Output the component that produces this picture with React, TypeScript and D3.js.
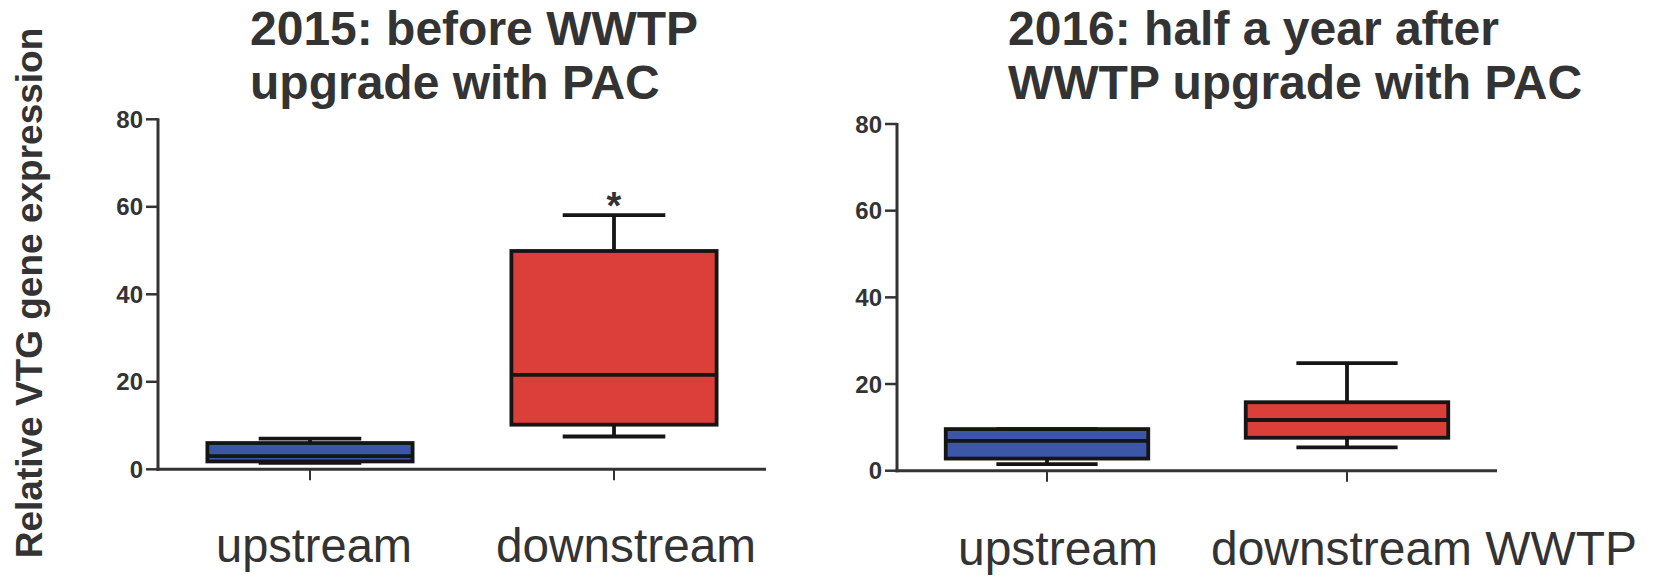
import React from "react";
import * as d3 from "d3";

// ---- data ----
const categories2015 = ["upstream", "downstream"];
const min2015 = [1.5, 7.5];
const q1_2015 = [1.8, 10.2];
const median2015 = [3.0, 21.6];
const q3_2015 = [6.0, 49.9];
const max2015 = [7.0, 58.1];
const signif2015 = ["", "*"];

const categories2016 = ["upstream", "downstream WWTP"];
const min2016 = [1.5, 5.4];
const q1_2016 = [2.8, 7.6];
const median2016 = [6.9, 11.7];
const q3_2016 = [9.6, 15.8];
const max2016 = [9.6, 24.8];
const signif2016 = ["", ""];

const yTicks = [0, 20, 40, 60, 80];
const groupColors = ["#3c57a8", "#dc3f3a"];

const title2015 = ["2015: before WWTP", "upgrade with PAC"];
const title2016 = ["2016: half a year after", "WWTP upgrade with PAC"];
const yLabel = "Relative VTG gene expression";

const W = 1656;
const H = 577;
const TEXT = "#333";
const LINE = "#151515";
const FONT = "'Liberation Sans', Arial, Helvetica, sans-serif";

type PanelProps = {
  cats: string[];
  mins: number[];
  q1s: number[];
  meds: number[];
  q3s: number[];
  maxs: number[];
  sig: string[];
  x0: number;
  x1: number;
  y0: number;
  y1: number;
  title: string[];
  titleX: number;
  labelX: number[];
  labelW: number[];
  labelY: number;
};

function Panel(p: PanelProps) {
  const y = d3.scaleLinear().domain([0, 80]).range([p.y0, p.y1]);
  const x = d3.scalePoint<string>().domain(p.cats).range([p.x0, p.x1]).padding(0.5);
  const step = x.step();
  const bw = step * 0.675;
  const cap = bw / 2;
  const sw = 3.8;
  return (
    <g>
      {p.title.map((t, i) => (
        <text key={i} x={p.titleX} y={45 + i * 54} fontFamily={FONT} fontWeight="bold" fontSize={48} fill={TEXT}>
          {t}
        </text>
      ))}
      {/* y axis */}
      <line x1={p.x0} x2={p.x0} y1={y(80) - 1} y2={y(0) + 1.5} stroke={TEXT} strokeWidth={3} />
      {yTicks.map((t) => (
        <g key={t}>
          <line x1={p.x0 - 12} x2={p.x0} y1={y(t)} y2={y(t)} stroke={TEXT} strokeWidth={2.5} />
          <text x={p.x0 - 15} y={y(t)} dy="0.36em" textAnchor="end" fontFamily={FONT} fontWeight="bold" fontSize={24} fill={TEXT}>
            {t}
          </text>
        </g>
      ))}
      {/* x axis */}
      <line x1={p.x0 - 1.5} x2={p.x1} y1={y(0)} y2={y(0)} stroke={TEXT} strokeWidth={3} />
      {p.cats.map((c) => (
        <line key={c} x1={x(c)!} x2={x(c)!} y1={y(0)} y2={y(0) + 11} stroke={TEXT} strokeWidth={2} />
      ))}
      {/* boxes */}
      {p.cats.map((c, i) => {
        const cx = x(c)!;
        return (
          <g key={c}>
            <line x1={cx} x2={cx} y1={y(p.q3s[i])} y2={y(p.maxs[i])} stroke={LINE} strokeWidth={sw} />
            <line x1={cx} x2={cx} y1={y(p.q1s[i])} y2={y(p.mins[i])} stroke={LINE} strokeWidth={sw} />
            <line x1={cx - cap / 2} x2={cx + cap / 2} y1={y(p.maxs[i])} y2={y(p.maxs[i])} stroke={LINE} strokeWidth={sw} />
            <line x1={cx - cap / 2} x2={cx + cap / 2} y1={y(p.mins[i])} y2={y(p.mins[i])} stroke={LINE} strokeWidth={sw} />
            <rect
              x={cx - bw / 2}
              y={y(p.q3s[i])}
              width={bw}
              height={y(p.q1s[i]) - y(p.q3s[i])}
              fill={groupColors[i]}
              stroke={LINE}
              strokeWidth={sw}
            />
            <line x1={cx - bw / 2} x2={cx + bw / 2} y1={y(p.meds[i])} y2={y(p.meds[i])} stroke={LINE} strokeWidth={sw} />
            {p.sig[i] && (
              <text x={cx} y={y(p.maxs[i]) + 4} textAnchor="middle" fontFamily={FONT} fontWeight="bold" fontSize={38} fill={TEXT}>
                {p.sig[i]}
              </text>
            )}
          </g>
        );
      })}
      {/* category labels */}
      {p.cats.map((c, i) => (
        <text
          key={c}
          x={p.labelX[i]}
          y={p.labelY}
          fontFamily={FONT}
          fontSize={48}
          fill={TEXT}
          textLength={p.labelW[i]}
          lengthAdjust="spacingAndGlyphs"
        >
          {c}
        </text>
      ))}
    </g>
  );
}

export default function App() {
  return (
    <svg width={W} height={H} style={{ position: "absolute", left: 0, top: 0, background: "#fff" }}>
      <rect width={W} height={H} fill="#fff" />
      <text
        transform="translate(42,293) rotate(-90)"
        textAnchor="middle"
        fontFamily={FONT}
        fontWeight="bold"
        fontSize={37}
        fill={TEXT}
      >
        {yLabel}
      </text>
      <Panel
        cats={categories2015}
        mins={min2015}
        q1s={q1_2015}
        meds={median2015}
        q3s={q3_2015}
        maxs={max2015}
        sig={signif2015}
        x0={158}
        x1={766}
        y0={469.3}
        y1={119.3}
        title={title2015}
        titleX={250}
        labelX={[216, 496]}
        labelW={[196, 260]}
        labelY={562}
      />
      <Panel
        cats={categories2016}
        mins={min2016}
        q1s={q1_2016}
        meds={median2016}
        q3s={q3_2016}
        maxs={max2016}
        sig={signif2016}
        x0={897}
        x1={1497}
        y0={470.7}
        y1={124}
        title={title2016}
        titleX={1008}
        labelX={[958, 1211]}
        labelW={[200, 426]}
        labelY={565}
      />
    </svg>
  );
}
